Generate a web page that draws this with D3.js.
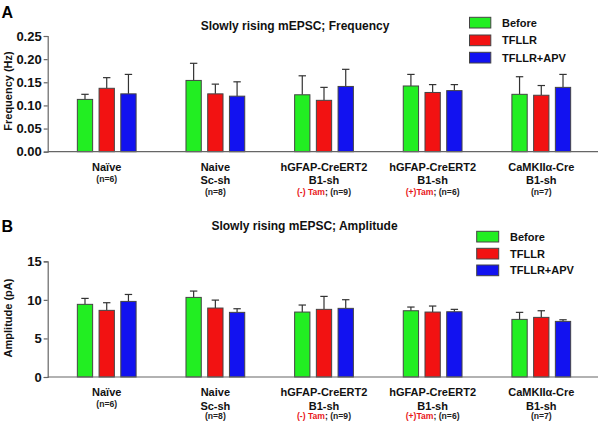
<!DOCTYPE html>
<html>
<head>
<meta charset="utf-8">
<script src="https://cdn.jsdelivr.net/npm/d3@7"></script>
<style>
html,body{margin:0;padding:0;background:#fff;}
svg{display:block;font-family:"Liberation Sans",Arial,Helvetica,sans-serif;}
</style>
</head>
<body>
<svg id="chart" width="600" height="422"></svg>
<script>
// ---- data ----
const categories = ["Naïve", "Naive", "hGFAP-CreERT2", "hGFAP-CreERT2", "CaMKIIα-Cre"];
const categoryLine2 = ["", "Sc-sh", "B1-sh", "B1-sh", "B1-sh"];
const tamLabels = ["", "", "(-) Tam", "(+)Tam", ""];
const nLabels = ["(n=6)", "(n=8)", "(n=9)", "(n=6)", "(n=7)"];
const seriesNames = ["Before", "TFLLR", "TFLLR+APV"];

const freqBefore = [0.113, 0.154, 0.123, 0.142, 0.124];
const freqTFLLR  = [0.137, 0.125, 0.111, 0.128, 0.122];
const freqAPV    = [0.125, 0.120, 0.141, 0.132, 0.139];
const freqErrBefore = [0.011, 0.037, 0.041, 0.025, 0.038];
const freqErrTFLLR  = [0.023, 0.021, 0.028, 0.017, 0.021];
const freqErrAPV    = [0.042, 0.031, 0.037, 0.013, 0.028];

const ampBefore = [9.42, 10.32, 8.42, 8.59, 7.47];
const ampTFLLR  = [8.64, 8.94, 8.77, 8.42, 7.73];
const ampAPV    = [9.80, 8.38, 8.90, 8.46, 7.21];
const ampErrBefore = [0.77, 0.82, 0.91, 0.48, 0.91];
const ampErrTFLLR  = [0.99, 1.03, 1.68, 0.78, 0.86];
const ampErrAPV    = [0.90, 0.47, 1.12, 0.31, 0.21];

const freqTicks = [0, 0.05, 0.10, 0.15, 0.20, 0.25];
const ampTicks = [0, 5, 10, 15];

const colors = ["#22ee22", "#f21212", "#1212f0"];

// ---- drawing ----
const svg = d3.select("#chart");
svg.append("rect").attr("width", 600).attr("height", 422).attr("fill", "#fff");

const x0 = d3.scaleBand().domain(d3.range(categories.length)).range([52.4, 595.6]).paddingInner(0).paddingOuter(0);
const x1 = d3.scaleBand().domain(d3.range(seriesNames.length)).range([0, x0.bandwidth()]).paddingInner(0.296).paddingOuter(1.148);

const panels = [
  { letter: "A", letterY: 17.5, title: "Slowly rising mEPSC; Frequency", titleX: 295, titleY: 29.5,
    ylabel: "Frequency (Hz)", ylabelY: 91,
    domain: [0, 0.25], range: [151.7, 36], ticks: freqTicks, fmt: d3.format(".2f"),
    means: [freqBefore, freqTFLLR, freqAPV], errs: [freqErrBefore, freqErrTFLLR, freqErrAPV],
    legX: 469.5, legTextX: 502, legRectY: [17.3, 35, 52.3], legTextY: [27, 44.3, 61.7], legW: 21.3,
    lab1: 170.7, lab2: 184, labN0: 181.5, labN: 194.5 },
  { letter: "B", letterY: 232.3, title: "Slowly rising mEPSC; Amplitude", titleX: 304.5, titleY: 230,
    ylabel: "Amplitude (pA)", ylabelY: 318,
    domain: [0, 15], range: [377, 261.3], ticks: ampTicks, fmt: d3.format("d"),
    means: [ampBefore, ampTFLLR, ampAPV], errs: [ampErrBefore, ampErrTFLLR, ampErrAPV],
    legX: 476.7, legTextX: 510, legRectY: [231.3, 248.3, 265], legTextY: [240.7, 257.7, 274], legW: 22,
    lab1: 396.3, lab2: 409.5, labN0: 407, labN: 419 }
];

panels.forEach(p => {
  const g = svg.append("g");
  const y = d3.scaleLinear().domain(p.domain).range(p.range);

  g.append("text").attr("x", 1.5).attr("y", p.letterY).attr("font-size", 16).attr("font-weight", "bold")
    .attr("fill", "#000").text(p.letter);
  g.append("text").attr("x", p.titleX).attr("y", p.titleY).attr("text-anchor", "middle")
    .attr("font-size", 12).attr("font-weight", "bold").attr("fill", "#111").text(p.title);
  g.append("text").attr("transform", `translate(12.3,${p.ylabelY}) rotate(-90)`).attr("text-anchor", "middle")
    .attr("font-size", 11).attr("font-weight", "bold").attr("fill", "#111").text(p.ylabel);

  // y axis
  const yAxis = d3.axisLeft(y).tickValues(p.ticks).tickFormat(p.fmt).tickSize(4).tickPadding(2);
  const ya = g.append("g").attr("transform", "translate(47.7,0)").call(yAxis);
  ya.select(".domain").attr("stroke", "#666").attr("stroke-width", 1.2);
  ya.selectAll(".tick line").attr("stroke", "#666").attr("stroke-width", 1.2);
  ya.selectAll(".tick text").attr("font-size", 13).attr("font-weight", "bold").attr("fill", "#111")
    .attr("font-family", "Liberation Sans, Arial, sans-serif");

  // bars
  seriesNames.forEach((s, si) => {
    const bars = g.append("g");
    p.means[si].forEach((v, ci) => {
      const bx = x0(ci) + x1(si);
      const bw = x1.bandwidth();
      const cx = bx + bw / 2;
      const top = y(v + p.errs[si][ci]);
      bars.append("line").attr("x1", cx).attr("x2", cx).attr("y1", y(v)).attr("y2", top)
        .attr("stroke", "#333").attr("stroke-width", 1.2);
      bars.append("line").attr("x1", cx - 3.7).attr("x2", cx + 3.7).attr("y1", top).attr("y2", top)
        .attr("stroke", "#333").attr("stroke-width", 1.2);
      bars.append("rect").attr("x", bx).attr("y", y(v)).attr("width", bw).attr("height", y(0) - y(v))
        .attr("fill", colors[si]).attr("stroke", "#444").attr("stroke-width", 1);
    });
  });

  // baseline
  g.append("line").attr("x1", 47.7).attr("x2", 598).attr("y1", y(0)).attr("y2", y(0))
    .attr("stroke", "#666").attr("stroke-width", 1.2);

  // category labels
  categories.forEach((c, ci) => {
    const cx = x0(ci) + x0.bandwidth() / 2;
    g.append("text").attr("x", cx).attr("y", p.lab1).attr("text-anchor", "middle")
      .attr("font-size", 11).attr("font-weight", "bold").attr("fill", "#111").text(c);
    if (categoryLine2[ci]) {
      g.append("text").attr("x", cx).attr("y", p.lab2).attr("text-anchor", "middle")
        .attr("font-size", 11).attr("font-weight", "bold").attr("fill", "#111").text(categoryLine2[ci]);
    }
    const t = g.append("text").attr("x", cx).attr("y", categoryLine2[ci] ? p.labN : p.labN0)
      .attr("text-anchor", "middle").attr("font-size", 8.6).attr("font-weight", "bold").attr("fill", "#222");
    if (tamLabels[ci]) {
      t.append("tspan").attr("fill", "#e8191c").text(tamLabels[ci]);
      t.append("tspan").text("; " + nLabels[ci]);
    } else {
      t.text(nLabels[ci]);
    }
  });

  // legend
  seriesNames.forEach((s, si) => {
    g.append("rect").attr("x", p.legX).attr("y", p.legRectY[si]).attr("width", p.legW).attr("height", 10.7)
      .attr("fill", colors[si]).attr("stroke", "#444").attr("stroke-width", 1);
    g.append("text").attr("x", p.legTextX).attr("y", p.legTextY[si]).attr("font-size", 11)
      .attr("font-weight", "bold").attr("fill", "#111").text(s);
  });
});
</script>
</body>
</html>
